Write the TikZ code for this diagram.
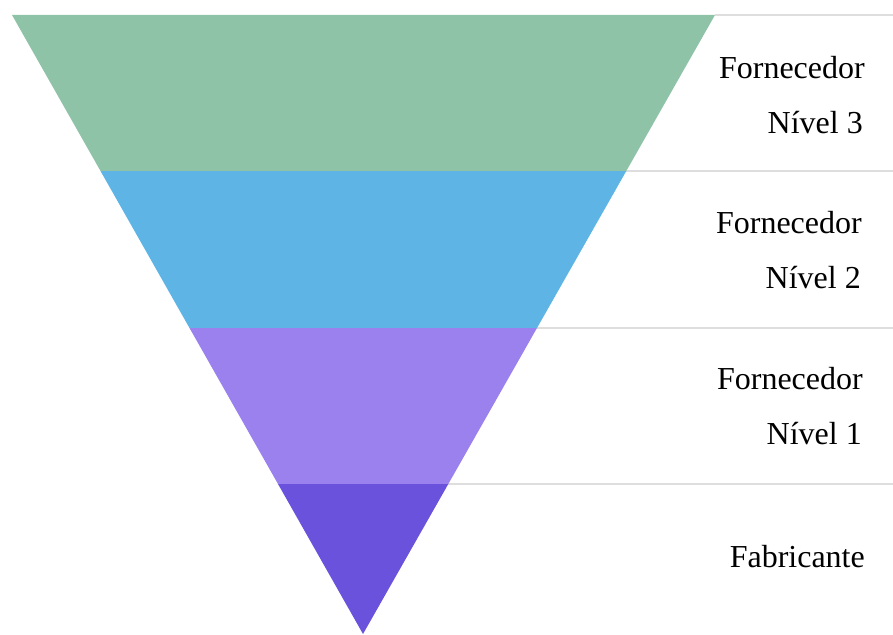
\documentclass[tikz,border=0pt]{standalone}
\usepackage{fontspec}
\setmainfont{Liberation Serif}
\definecolor{lvA}{RGB}{143,195,168}
\definecolor{lvB}{RGB}{94,180,228}
\definecolor{lvC}{RGB}{155,129,238}
\definecolor{lvD}{RGB}{106,82,220}
\definecolor{sepgray}{RGB}{222,222,222}
\begin{document}
\begin{tikzpicture}[x=1pt,y=-1pt,
  sep/.style={draw=sepgray,line width=1.6pt},
  lbl/.style={anchor=base east,font=\fontsize{32}{38}\selectfont,inner sep=0pt}]
\useasboundingbox (0,0) rectangle (893,634);
% corner coordinates
\coordinate (l0) at (12,15);   \coordinate (r0) at (715,15);
\coordinate (l1) at (100.5,171); \coordinate (r1) at (626.3,171);
\coordinate (l2) at (189.5,328); \coordinate (r2) at (537,328);
\coordinate (l3) at (278,484);   \coordinate (r3) at (448.3,484);
\coordinate (apex) at (363,634);
% separator lines
\draw[sep] (r0) -- (893,15);
\draw[sep] (r1) -- (893,171);
\draw[sep] (r2) -- (893,328);
\draw[sep] (r3) -- (893,484);
% bands
\fill[lvA] (l0) -- (r0) -- (r1) -- (l1) -- cycle;
\fill[lvB] (l1) -- (r1) -- (r2) -- (l2) -- cycle;
\fill[lvC] (l2) -- (r2) -- (r3) -- (l3) -- cycle;
\fill[lvD] (l3) -- (r3) -- (apex) -- cycle;
% labels
\node[lbl] (t3a) at (865,78) {Fornecedor};
\node[lbl] (t3b) at (863,133) {Nível 3};
\node[lbl] (t2a) at (862,233) {Fornecedor};
\node[lbl] (t2b) at (861,288) {Nível 2};
\node[lbl] (t1a) at (863,389) {Fornecedor};
\node[lbl] (t1b) at (862,444) {Nível 1};
\node[lbl] (t0) at (865,567) {Fabricante};
\end{tikzpicture}
\end{document}
